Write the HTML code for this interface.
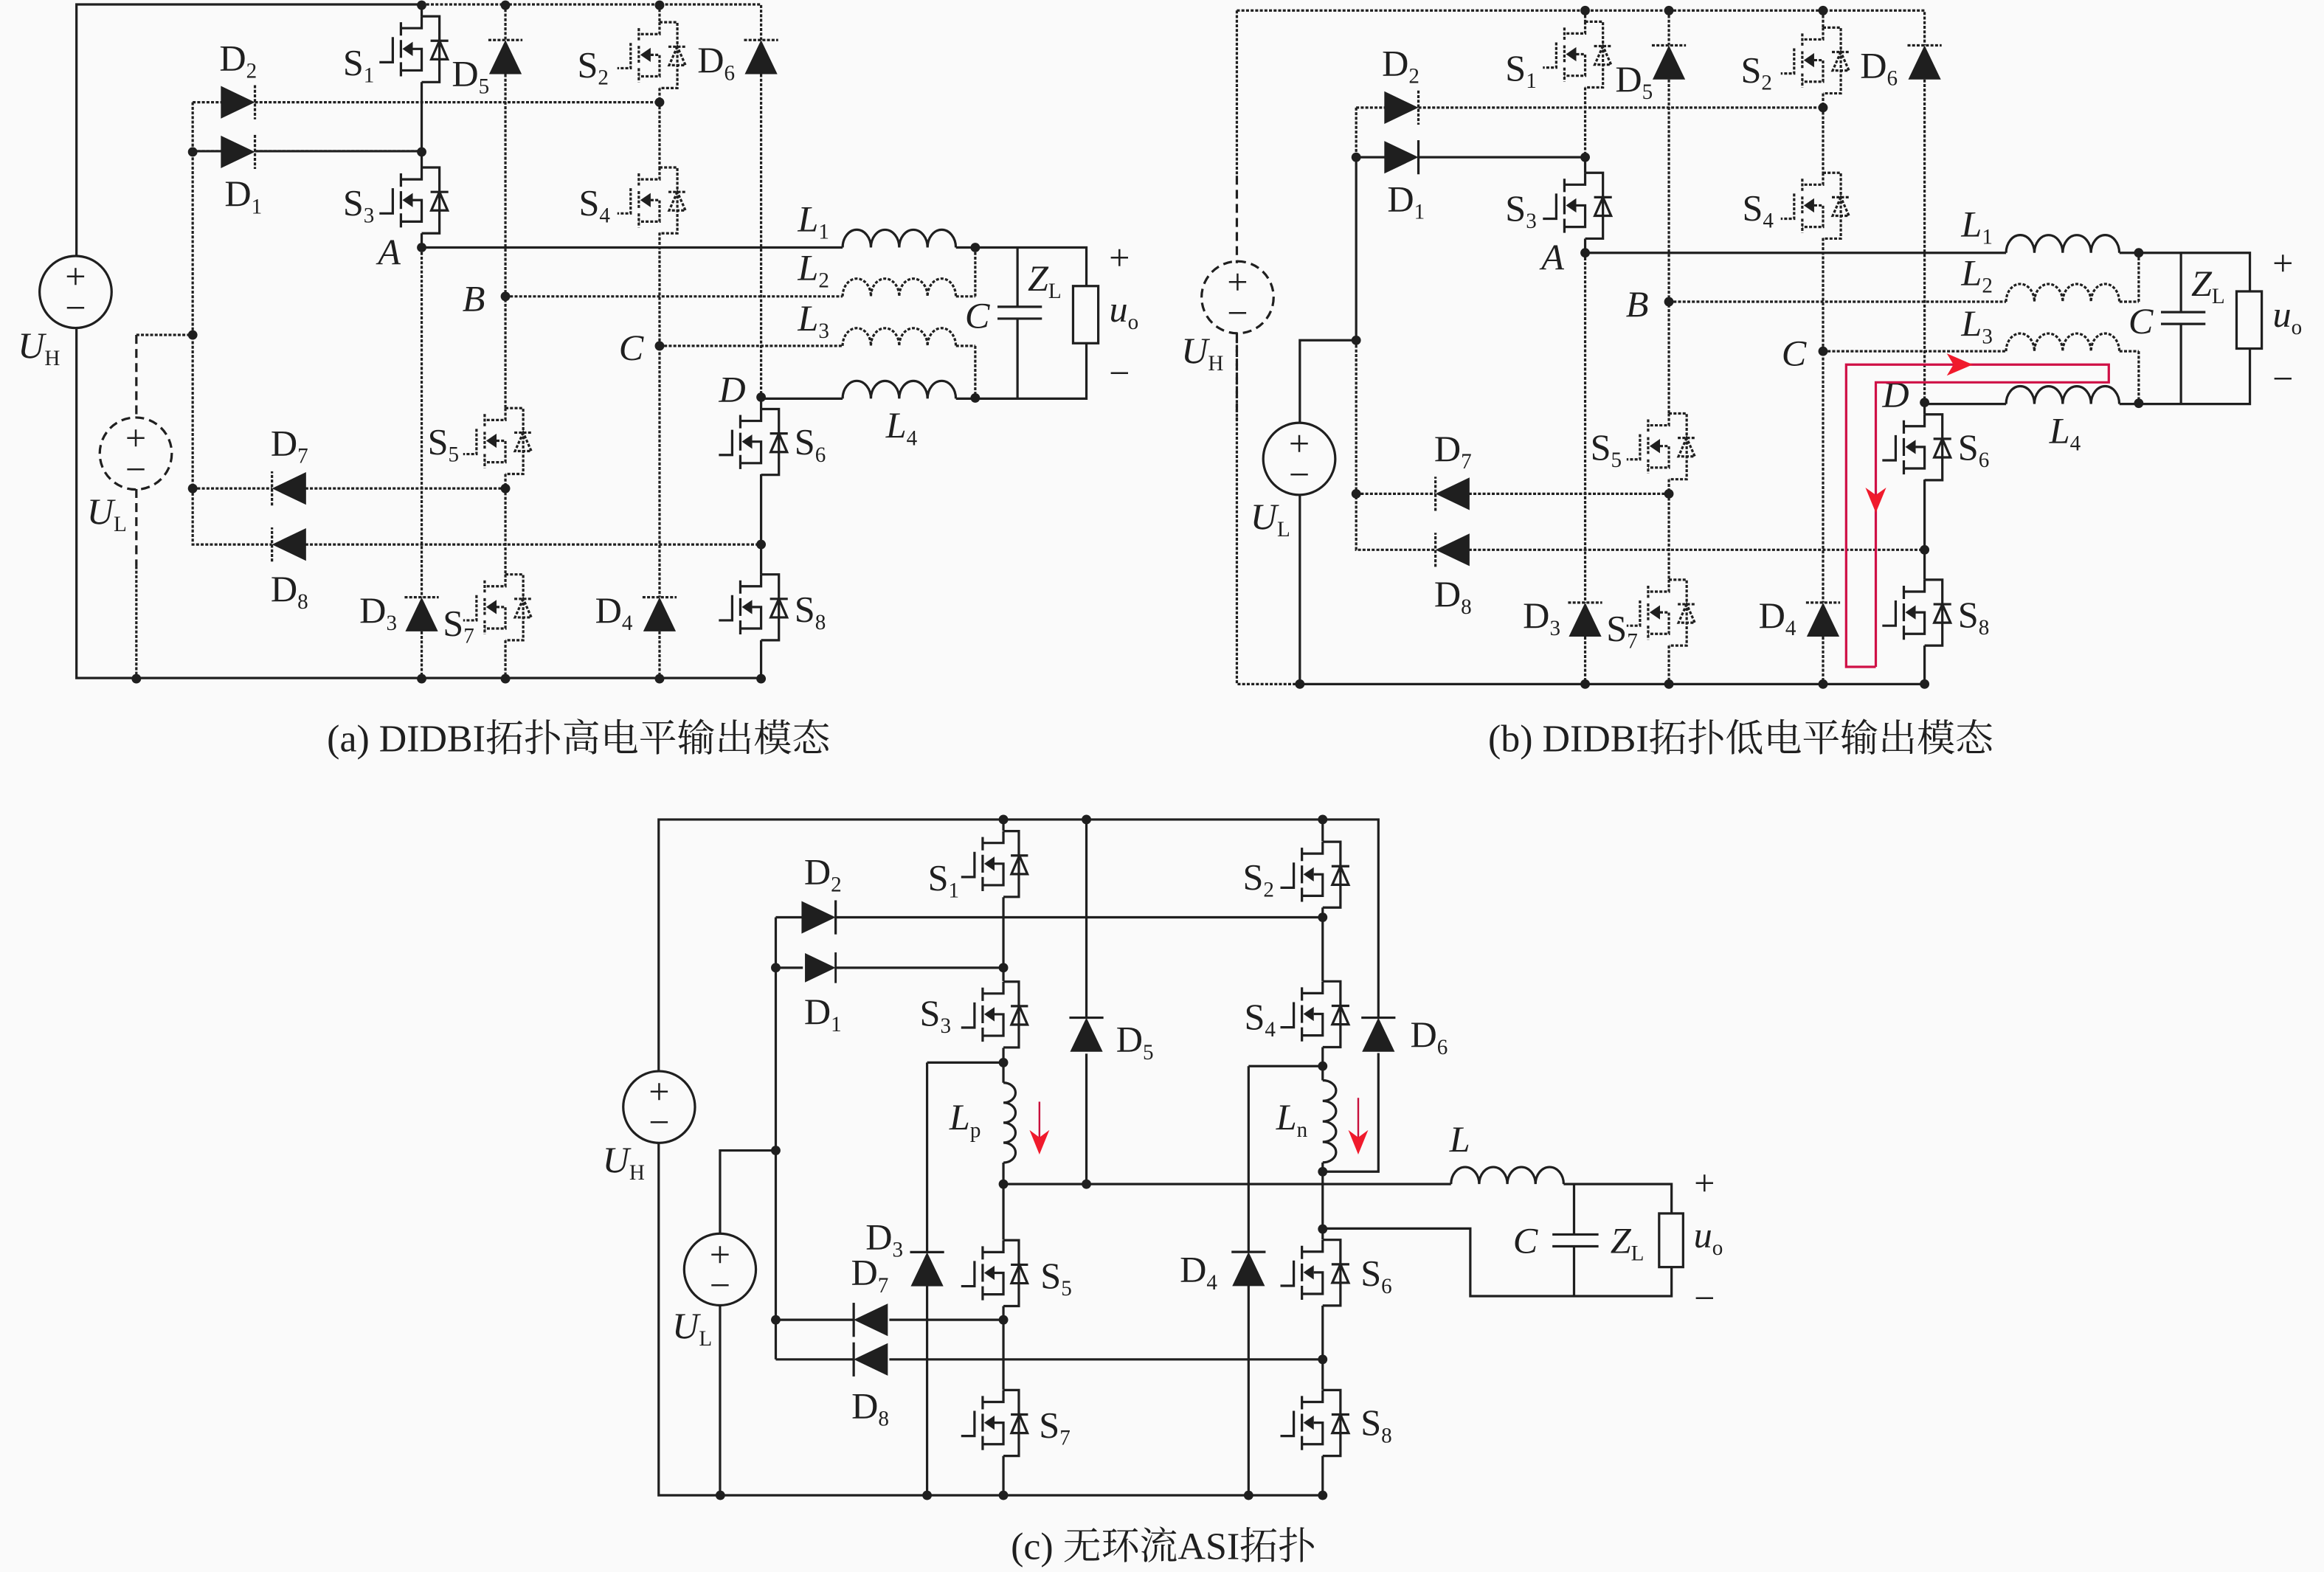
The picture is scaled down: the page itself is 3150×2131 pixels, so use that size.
<!DOCTYPE html>
<html><head><meta charset="utf-8">
<style>
html,body{margin:0;padding:0;background:#fafafa}
svg{display:block}
.s,.d,.k{fill:none;stroke:#1f1f1f;stroke-width:1.6;stroke-linejoin:miter}
.d{stroke-dasharray:2 1.1}
.k{stroke-dasharray:6 3.5}
.n{fill:#1f1f1f;stroke:none}
text{font-family:"Liberation Serif","Noto Serif CJK SC",serif;font-size:25px;fill:#1f1f1f;stroke:none}
.i{font-style:italic}
.b{font-size:14.5px;font-style:normal}
.cap{font-size:25.85px}
</style></head><body>
<svg xmlns="http://www.w3.org/2000/svg" width="3150" height="2131" viewBox="0 0 1568 1060.75">
<defs>
<g id="m">
<path d="M0,-22V-14H-14M-14,-18V-9M-14,-6V6M-14,9V18.5M-6,0H0V14.5H-14M0,-22H12V22.4H0M-19.5,-8V9H-28.5M6,-5.5H18M12,-5.5L6.5,7H17.5Z"/>
<path d="M-13,0L-6,-4.8V4.8Z" fill="#1f1f1f" stroke="none"/>
</g>
<g id="m2">
<path d="M0,-22V-14H-14M-14,-18V-9M-14,-6V6M-14,9V18.5M-6,0H0V14.5H-14M0,-22H10.4V22.4H0M-19.5,-8V9H-28.5M5,-5.5H16.6M10.8,-5.5L5.4,7H16.2Z"/>
<path d="M-13,0L-6,-4.8V4.8Z" fill="#1f1f1f" stroke="none"/>
</g>
<g id="v"><path d="M0,0L-11,23H11Z" fill="#1f1f1f" stroke="none"/><path d="M-11.5,0H11.5"/></g>
</defs>

<!-- ============ Panel (a) ============ -->
<g>
<path class="s" d="M51.6,173V3H284.5V11M284.5,55.4V113M284.5,157.4V167M51.6,221V457.5H513.5"/>
<path class="s" d="M284.5,167H568.5M645,167H733V193M733,231.6V269H645M568.5,269H513.5V276M513.5,320V387.5M513.5,432V457.5M686.5,167V207M686.5,215V269M673,207H703M673,215H703"/>
<rect class="s" x="724" y="193" width="17" height="38.6"/>
<path class="s" d="M568.5,167a9.55,12 0 0 1 19.1,0a9.55,12 0 0 1 19.1,0a9.55,12 0 0 1 19.1,0a9.55,12 0 0 1 19.1,0"/>
<path class="s" d="M568.5,269a9.55,12 0 0 1 19.1,0a9.55,12 0 0 1 19.1,0a9.55,12 0 0 1 19.1,0a9.55,12 0 0 1 19.1,0"/>
<path class="s" d="M130,102H150M172,102H284.5"/>
<path class="d" d="M284.5,3H513.5V27M513.5,50V269M284.5,167V403M284.5,426V457.5M445,3V15M445,59.4V113M445,157V403M445,426V457.5M341,3V27M341,50V275.5M341,319.8V387.5M341,432V457.5"/>
<path class="d" d="M130,69H150M172,69H445M130,69V367.4H183.5M206,367.4H513.5M130,329.6H183.5M206,329.6H341M130,102H150M172,102H284.5M92,226H130"/>
<path class="d" d="M341,200H568.5M645,200H658M445,233.4H568.5M645,233.4H658M658,167V200M658,233.4V269"/>
<path class="d" d="M568.5,200a9.55,12 0 0 1 19.1,0a9.55,12 0 0 1 19.1,0a9.55,12 0 0 1 19.1,0a9.55,12 0 0 1 19.1,0M568.5,233.4a9.55,12 0 0 1 19.1,0a9.55,12 0 0 1 19.1,0a9.55,12 0 0 1 19.1,0a9.55,12 0 0 1 19.1,0"/>
<path class="k" d="M92,226V282M92,330V382"/>
<path class="d" d="M92,382V457.5"/>
<ellipse class="s" cx="51" cy="197" rx="24.3" ry="24.3"/>
<circle class="k" cx="91.6" cy="306" r="24.3"/>
<use href="#m" class="s" x="284.5" y="33"/>
<use href="#m" class="s" x="284.5" y="135"/>
<use href="#m" class="d" x="445" y="37"/>
<use href="#m" class="d" x="445" y="135"/>
<use href="#m" class="d" x="341" y="297.4"/>
<use href="#m" class="d" x="341" y="409.6"/>
<use href="#m" class="s" x="513.5" y="298"/>
<use href="#m" class="s" x="513.5" y="409.6"/>
<use href="#v" class="d" transform="translate(341,27)"/>
<use href="#v" class="d" transform="translate(513.5,27)"/>
<use href="#v" class="d" transform="translate(284.5,403)"/>
<use href="#v" class="d" transform="translate(445,403)"/>
<use href="#v" class="d" transform="translate(172,69) rotate(90)"/>
<use href="#v" class="d" transform="translate(172,102.5) rotate(90)"/>
<use href="#v" class="d" transform="translate(183.5,329.6) rotate(-90)"/>
<use href="#v" class="d" transform="translate(183.5,367.4) rotate(-90)"/>
<g class="n">
<circle cx="284.5" cy="3.5" r="3.2"/><circle cx="341" cy="3.5" r="3.2"/><circle cx="445" cy="3.5" r="3.2"/>
<circle cx="445" cy="69" r="3.2"/><circle cx="284.5" cy="102.5" r="3.2"/><circle cx="130" cy="102.5" r="3.2"/>
<circle cx="284.5" cy="167" r="3.2"/><circle cx="341" cy="200" r="3.2"/><circle cx="445" cy="233.4" r="3.2"/>
<circle cx="513.5" cy="268" r="3.2"/><circle cx="658" cy="167" r="3.2"/><circle cx="658" cy="268.5" r="3.2"/>
<circle cx="130" cy="226" r="3.2"/><circle cx="130" cy="329.6" r="3.2"/><circle cx="341" cy="329.6" r="3.2"/>
<circle cx="513.5" cy="367.4" r="3.2"/>
<circle cx="92" cy="458" r="3.2"/><circle cx="284.5" cy="458" r="3.2"/><circle cx="341" cy="458" r="3.2"/>
<circle cx="445" cy="458" r="3.2"/><circle cx="513.5" cy="458" r="3.2"/>
</g>
<text x="148" y="47.5">D<tspan dy="5" class="b">2</tspan></text>
<text x="151.5" y="139">D<tspan dy="5" class="b">1</tspan></text>
<text x="231.4" y="50.6">S<tspan dy="5" class="b">1</tspan></text>
<text x="231.4" y="145.2">S<tspan dy="5" class="b">3</tspan></text>
<text x="304.8" y="58">D<tspan dy="5" class="b">5</tspan></text>
<text x="389.5" y="52">S<tspan dy="5" class="b">2</tspan></text>
<text x="390.5" y="145">S<tspan dy="5" class="b">4</tspan></text>
<text x="470.5" y="48.9">D<tspan dy="5" class="b">6</tspan></text>
<text class="i" x="255" y="178.4">A</text>
<text class="i" x="312" y="209.9">B</text>
<text class="i" x="417.5" y="243">C</text>
<text class="i" x="485" y="271">D</text>
<text class="i" x="538.3" y="156">L<tspan dy="5" class="b">1</tspan></text>
<text class="i" x="538.3" y="188.8">L<tspan dy="5" class="b">2</tspan></text>
<text class="i" x="538.3" y="223">L<tspan dy="5" class="b">3</tspan></text>
<text class="i" x="597.7" y="295.3">L<tspan dy="5" class="b">4</tspan></text>
<text class="i" x="651" y="221.3">C</text>
<text class="i" x="693.4" y="196">Z<tspan dy="5" class="b">L</tspan></text>
<text class="i" x="748.4" y="217">u<tspan dy="5" class="b">o</tspan></text>
<text x="755.3" y="182.3" text-anchor="middle">+</text>
<text x="755.3" y="260.2" text-anchor="middle">−</text>
<text x="51" y="195" text-anchor="middle">+</text>
<text x="51" y="216" text-anchor="middle">−</text>
<text x="91.6" y="304" text-anchor="middle">+</text>
<text x="91.6" y="325" text-anchor="middle">−</text>
<text class="i" x="12" y="241.4">U<tspan dy="5" class="b">H</tspan></text>
<text class="i" x="58.6" y="353.3">U<tspan dy="5" class="b">L</tspan></text>
<text x="182.6" y="307.4">D<tspan dy="5" class="b">7</tspan></text>
<text x="182.6" y="405.6">D<tspan dy="5" class="b">8</tspan></text>
<text x="242.5" y="420">D<tspan dy="5" class="b">3</tspan></text>
<text x="401.5" y="420">D<tspan dy="5" class="b">4</tspan></text>
<text x="288.5" y="306.4">S<tspan dy="5" class="b">5</tspan></text>
<text x="298.8" y="428.8">S<tspan dy="5" class="b">7</tspan></text>
<text x="536" y="306.5">S<tspan dy="5" class="b">6</tspan></text>
<text x="536" y="419.5">S<tspan dy="5" class="b">8</tspan></text>
<text class="cap" x="220.6" y="507">(a) DIDBI拓扑高电平输出模态</text>
</g>

<!-- ============ Panel (b) ============ -->
<g transform="translate(785,3.6)">
<path class="d" d="M49.5,3.5V115M49.5,226V458H92M284.5,3.5V11M284.5,55.4V102M49.5,3.5H513.5V27M513.5,50V269M284.5,167V403M284.5,426V457.5M445,3.5V15M445,59.4V113M445,157V403M445,426V457.5M341,3.5V27M341,50V275.5M341,319.8V387.5M341,432V457.5"/>
<path class="k" d="M49.5,115V174M49.5,221V280"/>
<path class="s" d="M92,282V226H130V102.5H150M172,102.5H284.5V113M284.5,157.4V167M92,330V458H513.5"/>
<path class="s" d="M284.5,167H568.5M645,167H733V193M733,231.6V269H645M568.5,269H513.5V276M513.5,320V387.5M513.5,432V457.5M686.5,167V207M686.5,215V269M673,207H703M673,215H703"/>
<rect class="s" x="724" y="193" width="17" height="38.6"/>
<path class="s" d="M568.5,167a9.55,12 0 0 1 19.1,0a9.55,12 0 0 1 19.1,0a9.55,12 0 0 1 19.1,0a9.55,12 0 0 1 19.1,0"/>
<path class="s" d="M568.5,269a9.55,12 0 0 1 19.1,0a9.55,12 0 0 1 19.1,0a9.55,12 0 0 1 19.1,0a9.55,12 0 0 1 19.1,0"/>
<path class="d" d="M130,69H150M172,69H445M130,69V102.5M130,226V367.4H183.5M206,367.4H513.5M130,329.6H183.5M206,329.6H341"/>
<path class="d" d="M341,200H568.5M645,200H658M445,233.4H568.5M645,233.4H658M658,167V200M658,233.4V269"/>
<path class="d" d="M568.5,200a9.55,12 0 0 1 19.1,0a9.55,12 0 0 1 19.1,0a9.55,12 0 0 1 19.1,0a9.55,12 0 0 1 19.1,0M568.5,233.4a9.55,12 0 0 1 19.1,0a9.55,12 0 0 1 19.1,0a9.55,12 0 0 1 19.1,0a9.55,12 0 0 1 19.1,0"/>
<circle class="k" cx="50" cy="197" r="24.3"/>
<circle class="s" cx="91.6" cy="306" r="24.3"/>
<use href="#m" class="d" x="284.5" y="33"/>
<use href="#m" class="s" x="284.5" y="135"/>
<use href="#m" class="d" x="445" y="37"/>
<use href="#m" class="d" x="445" y="135"/>
<use href="#m" class="d" x="341" y="297.4"/>
<use href="#m" class="d" x="341" y="409.6"/>
<use href="#m" class="s" x="513.5" y="298"/>
<use href="#m" class="s" x="513.5" y="409.6"/>
<use href="#v" class="d" transform="translate(341,27)"/>
<use href="#v" class="d" transform="translate(513.5,27)"/>
<use href="#v" class="d" transform="translate(284.5,403)"/>
<use href="#v" class="d" transform="translate(445,403)"/>
<use href="#v" class="d" transform="translate(172,69) rotate(90)"/>
<use href="#v" class="s" transform="translate(172,102.5) rotate(90)"/>
<use href="#v" class="d" transform="translate(183.5,329.6) rotate(-90)"/>
<use href="#v" class="d" transform="translate(183.5,367.4) rotate(-90)"/>
<g class="n">
<circle cx="284.5" cy="3.5" r="3.2"/><circle cx="341" cy="3.5" r="3.2"/><circle cx="445" cy="3.5" r="3.2"/>
<circle cx="445" cy="69" r="3.2"/><circle cx="284.5" cy="102.5" r="3.2"/><circle cx="130" cy="102.5" r="3.2"/>
<circle cx="284.5" cy="167" r="3.2"/><circle cx="341" cy="200" r="3.2"/><circle cx="445" cy="233.4" r="3.2"/>
<circle cx="513.5" cy="268" r="3.2"/><circle cx="658" cy="167" r="3.2"/><circle cx="658" cy="268.5" r="3.2"/>
<circle cx="130" cy="226" r="3.2"/><circle cx="130" cy="329.6" r="3.2"/><circle cx="341" cy="329.6" r="3.2"/>
<circle cx="513.5" cy="367.4" r="3.2"/>
<circle cx="92" cy="458" r="3.2"/><circle cx="284.5" cy="458" r="3.2"/><circle cx="341" cy="458" r="3.2"/>
<circle cx="445" cy="458" r="3.2"/><circle cx="513.5" cy="458" r="3.2"/>
</g>
<text x="147.4" y="47.5">D<tspan dy="5" class="b">2</tspan></text>
<text x="151" y="139">D<tspan dy="5" class="b">1</tspan></text>
<text x="230.6" y="50.6">S<tspan dy="5" class="b">1</tspan></text>
<text x="230.6" y="145.2">S<tspan dy="5" class="b">3</tspan></text>
<text x="304.8" y="58">D<tspan dy="5" class="b">5</tspan></text>
<text x="389.5" y="52">S<tspan dy="5" class="b">2</tspan></text>
<text x="390.5" y="145">S<tspan dy="5" class="b">4</tspan></text>
<text x="470" y="48.9">D<tspan dy="5" class="b">6</tspan></text>
<text class="i" x="255" y="178.4">A</text>
<text class="i" x="312" y="209.9">B</text>
<text class="i" x="417" y="243">C</text>
<text class="i" x="485" y="271">D</text>
<text class="i" x="538.3" y="156">L<tspan dy="5" class="b">1</tspan></text>
<text class="i" x="538.3" y="188.8">L<tspan dy="5" class="b">2</tspan></text>
<text class="i" x="538.3" y="223">L<tspan dy="5" class="b">3</tspan></text>
<text class="i" x="597.7" y="295.3">L<tspan dy="5" class="b">4</tspan></text>
<text class="i" x="651" y="221.3">C</text>
<text class="i" x="693.4" y="196">Z<tspan dy="5" class="b">L</tspan></text>
<text class="i" x="748.4" y="217">u<tspan dy="5" class="b">o</tspan></text>
<text x="755.3" y="182.3" text-anchor="middle">+</text>
<text x="755.3" y="260.2" text-anchor="middle">−</text>
<text x="50" y="195" text-anchor="middle">+</text>
<text x="50" y="216" text-anchor="middle">−</text>
<text x="91.6" y="304" text-anchor="middle">+</text>
<text x="91.6" y="325" text-anchor="middle">−</text>
<text class="i" x="12" y="241.4">U<tspan dy="5" class="b">H</tspan></text>
<text class="i" x="58.6" y="353.3">U<tspan dy="5" class="b">L</tspan></text>
<text x="182.6" y="307.4">D<tspan dy="5" class="b">7</tspan></text>
<text x="182.6" y="405.6">D<tspan dy="5" class="b">8</tspan></text>
<text x="242.5" y="420">D<tspan dy="5" class="b">3</tspan></text>
<text x="401.5" y="420">D<tspan dy="5" class="b">4</tspan></text>
<text x="288" y="306.4">S<tspan dy="5" class="b">5</tspan></text>
<text x="298.8" y="428.8">S<tspan dy="5" class="b">7</tspan></text>
<text x="536" y="306.5">S<tspan dy="5" class="b">6</tspan></text>
<text x="536" y="419.5">S<tspan dy="5" class="b">8</tspan></text>
</g>
<text class="cap" x="1004" y="507">(b) DIDBI拓扑低电平输出模态</text>
<!-- red current loop -->
<path d="M1265.6,450H1245.6V246H1422.8V258H1265.6V450" fill="none" stroke="#cf1046" stroke-width="1.6"/>
<path d="M1313.5,238.5L1331,246L1313.5,253.5L1318,246Z" fill="#f01a2c"/>
<path d="M1258.6,329L1265.6,346L1272.6,329L1265.6,334Z" fill="#f01a2c"/>

<!-- ============ Panel (c) ============ -->
<g>
<path class="s" d="M444.4,723V553H930V686.7M930,710.6V790.6H892.4M444.4,771V1009H892.4M677,553V560.5M677,605.4V662M677,707V730.6M677,784.5V836.6M677,881.3V937.7M677,982.4V1009M892.4,553V567.7M892.4,612.4V662M892.4,706.6V729M892.4,784.4V836.3M892.4,881V937.7M892.4,982.4V1009M733,553V686.7M733,711V799M842.4,719.4V844.8M842.4,867.5V1009M625.5,717V845M625.5,867V1009M625.5,717H677M842.4,719.4H892.4"/>
<path class="s" d="M523.4,619V917.3M523.4,619H541.7M563.8,619H892.4M523.4,653H541.7M563.8,653H677M523.4,890.6H576M600,890.6H677M523.4,917.3H576M600,917.3H892.4M485.8,832.6V776.3H523.4M485.8,880.6V1009"/>
<path class="s" d="M677,799H979M1055,799H1127.8V818.8M1127.8,855V874.6H992V829H892.4M1062,799V833M1062,841V874.6M1047.4,833H1078.5M1047.4,841H1078.5"/>
<rect class="s" x="1119.4" y="818.8" width="16.2" height="36.2"/>
<path class="s" d="M979,799a9.5,11.5 0 0 1 19,0a9.5,11.5 0 0 1 19,0a9.5,11.5 0 0 1 19,0a9.5,11.5 0 0 1 19,0"/>
<path class="s" d="M677,730.6a8.2,6.74 0 0 1 0,13.48a8.2,6.74 0 0 1 0,13.48a8.2,6.74 0 0 1 0,13.48a8.2,6.74 0 0 1 0,13.48"/>
<path class="s" d="M892.4,729a9,6.9 0 0 1 0,13.85a9,6.9 0 0 1 0,13.85a9,6.9 0 0 1 0,13.85a9,6.9 0 0 1 0,13.85"/>
<circle class="s" cx="444.7" cy="747" r="24.2"/>
<circle class="s" cx="485.8" cy="856.6" r="24.2"/>
<use href="#m2" class="s" x="677" y="582.8"/>
<use href="#m2" class="s" x="677" y="684.4"/>
<use href="#m2" class="s" x="677" y="858.9"/>
<use href="#m2" class="s" x="677" y="960"/>
<use href="#m" class="s" x="892.4" y="590"/>
<use href="#m" class="s" x="892.4" y="684.2"/>
<use href="#m" class="s" x="892.4" y="858.6"/>
<use href="#m" class="s" x="892.4" y="960"/>
<use href="#v" class="s" transform="translate(733,686.7)"/>
<use href="#v" class="s" transform="translate(930,686.7)"/>
<use href="#v" class="s" transform="translate(625.5,844.9)"/>
<use href="#v" class="s" transform="translate(842.4,844.8)"/>
<use href="#v" class="s" transform="translate(563.8,619) rotate(90)"/>
<use href="#v" class="s" transform="translate(563.8,653) rotate(90) scale(.9)"/>
<use href="#v" class="s" transform="translate(576,890.6) rotate(-90)"/>
<use href="#v" class="s" transform="translate(576,917.3) rotate(-90)"/>
<g class="n">
<circle cx="677" cy="553" r="3.2"/><circle cx="733" cy="553" r="3.2"/><circle cx="892.4" cy="553" r="3.2"/>
<circle cx="892.4" cy="619" r="3.2"/><circle cx="677" cy="653" r="3.2"/><circle cx="523.4" cy="653" r="3.2"/>
<circle cx="677" cy="717" r="3.2"/><circle cx="892.4" cy="719.4" r="3.2"/><circle cx="677" cy="799" r="3.2"/>
<circle cx="733" cy="799" r="3.2"/><circle cx="892.4" cy="790.6" r="3.2"/><circle cx="892.4" cy="829.3" r="3.2"/>
<circle cx="523.4" cy="776.3" r="3.2"/><circle cx="523.4" cy="890.6" r="3.2"/><circle cx="677" cy="890.6" r="3.2"/>
<circle cx="892.4" cy="917.3" r="3.2"/>
<circle cx="486" cy="1009" r="3.2"/><circle cx="625.5" cy="1009" r="3.2"/><circle cx="677" cy="1009" r="3.2"/>
<circle cx="842.4" cy="1009" r="3.2"/><circle cx="892.4" cy="1009" r="3.2"/>
</g>
<path d="M701.3,743.4V770" fill="none" stroke="#c8103c" stroke-width="1.2"/>
<path d="M694.6,762.5L701.3,779L708,762.5L701.3,767.5Z" fill="#f01a2c"/>
<path d="M916.4,740.8V770" fill="none" stroke="#c8103c" stroke-width="1.2"/>
<path d="M909.7,762.5L916.4,779L923.1,762.5L916.4,767.5Z" fill="#f01a2c"/>
<text x="542.5" y="596.5">D<tspan dy="5" class="b">2</tspan></text>
<text x="542.5" y="691">D<tspan dy="5" class="b">1</tspan></text>
<text x="626" y="600.6">S<tspan dy="5" class="b">1</tspan></text>
<text x="620.5" y="692">S<tspan dy="5" class="b">3</tspan></text>
<text x="753" y="709.7">D<tspan dy="5" class="b">5</tspan></text>
<text x="838.5" y="600">S<tspan dy="5" class="b">2</tspan></text>
<text x="839.5" y="694.5">S<tspan dy="5" class="b">4</tspan></text>
<text x="951.5" y="706.4">D<tspan dy="5" class="b">6</tspan></text>
<text class="i" x="640.6" y="762.2">L<tspan dy="5" class="b">p</tspan></text>
<text class="i" x="861" y="762">L<tspan dy="5" class="b">n</tspan></text>
<text class="i" x="978" y="777">L</text>
<text class="i" x="1020.8" y="845.5">C</text>
<text class="i" x="1086.5" y="845.5">Z<tspan dy="5" class="b">L</tspan></text>
<text class="i" x="1142.7" y="841.7">u<tspan dy="5" class="b">o</tspan></text>
<text x="1150" y="806.7" text-anchor="middle">+</text>
<text x="1150" y="884.3" text-anchor="middle">−</text>
<text x="444.7" y="745" text-anchor="middle">+</text>
<text x="444.7" y="765.5" text-anchor="middle">−</text>
<text x="485.8" y="855" text-anchor="middle">+</text>
<text x="485.8" y="875.5" text-anchor="middle">−</text>
<text class="i" x="406.5" y="791">U<tspan dy="5" class="b">H</tspan></text>
<text class="i" x="453.5" y="903">U<tspan dy="5" class="b">L</tspan></text>
<text x="584" y="843">D<tspan dy="5" class="b">3</tspan></text>
<text x="574.2" y="867">D<tspan dy="5" class="b">7</tspan></text>
<text x="574.5" y="957">D<tspan dy="5" class="b">8</tspan></text>
<text x="796" y="865">D<tspan dy="5" class="b">4</tspan></text>
<text x="702" y="869">S<tspan dy="5" class="b">5</tspan></text>
<text x="701" y="970">S<tspan dy="5" class="b">7</tspan></text>
<text x="918" y="867.5">S<tspan dy="5" class="b">6</tspan></text>
<text x="918" y="968.3">S<tspan dy="5" class="b">8</tspan></text>
<text class="cap" x="682" y="1052">(c) 无环流ASI拓扑</text>
</g>
</svg>
</body></html>
